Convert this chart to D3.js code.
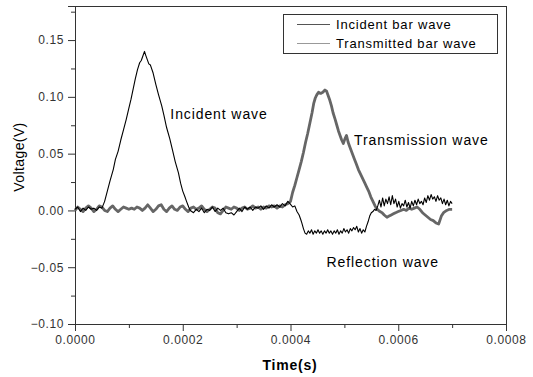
<!DOCTYPE html>
<html><head><meta charset="utf-8">
<script src="https://d3js.org/d3.v7.min.js"></script>
<style>body{margin:0;background:#fff}svg{display:block;font-family:"Liberation Sans",Arial,sans-serif}</style>
</head><body><svg id="c" width="533" height="377"></svg>
<script>
// ---- data (time in microseconds, voltage in V) ----
const incidentTimeUs = [0,5,10,15,20,25,30,35,40,45,50,
 55,60,65,71,75,80,85,90,95,100,104,108,112,116,120,123,126,129,131,134,137,140,145,150,155,161,165,170,176,181,186,192,196,200,204,207,211,214,
 220,225,230,235,240,245,250,255,260,265,270,275,280,285,290,295,300,305,310,315,320,325,330,335,340,345,350,355,360,365,370,375,380,385,390,395,399,
 404,408,412,416,419,421,424,427,430,433,436,439,442,445,448,451,454,457,460,463,466,469,472,475,478,481,484,487,490,493,496,499,502,505,508,511,514,517,520,523,526,529,532,535,538,541,544,547,550,553,556,559,562,565,568,571,574,577,580,583,586,589,592,595,598,601,604,607,610,613,616,619,622,625,628,631,634,637,640,643,646,649,652,655,658,661,664,667,670,673,676,679,682,685,688,691,694,697,700];
const incidentVoltage = [0.001,0.003,-0.001,0.002,0.000,0.003,0.001,0.002,0.000,0.003,0.002,
 0.008,0.017,0.026,0.036,0.045,0.052,0.062,0.071,0.080,0.090,0.098,0.107,0.116,0.124,0.130,0.132,0.136,0.140,0.137,0.133,0.129,0.128,0.121,0.111,0.102,0.092,0.084,0.073,0.063,0.053,0.043,0.033,0.024,0.017,0.012,0.008,0.003,0.000,
 -0.002,0.001,-0.001,0.002,-0.002,0.001,0.000,0.003,-0.001,0.002,0.000,0.002,-0.002,-0.003,-0.002,-0.004,-0.001,0.002,-0.001,0.003,0.001,0.003,0.000,0.003,0.002,0.004,0.001,0.004,0.002,0.005,0.003,0.005,0.003,0.006,0.004,0.008,0.006,
 0.003,0.004,-0.001,-0.004,-0.008,-0.011,-0.016,-0.020,-0.021,-0.018,-0.020,-0.017,-0.021,-0.018,-0.020,-0.017,-0.020,-0.018,-0.021,-0.018,-0.020,-0.017,-0.020,-0.018,-0.021,-0.018,-0.020,-0.017,-0.021,-0.018,-0.020,-0.016,-0.019,-0.017,-0.020,-0.016,-0.018,-0.015,-0.017,-0.014,-0.019,-0.016,-0.020,-0.017,-0.019,-0.014,-0.010,-0.005,-0.002,-0.001,0.001,0.000,0.004,0.009,0.003,0.011,0.004,0.010,0.006,0.012,0.005,0.013,0.006,0.010,0.003,0.008,0.002,0.006,0.004,0.009,0.003,0.007,0.002,0.008,0.004,0.009,0.005,0.010,0.006,0.008,0.005,0.011,0.007,0.013,0.009,0.014,0.010,0.012,0.008,0.013,0.009,0.011,0.006,0.010,0.005,0.009,0.004,0.008,0.006];

const transmittedTimeUs = [0,5,10,15,20,25,30,35,40,45,50,55,60,65,70,75,80,85,90,95,100,105,110,115,120,125,130,135,140,145,150,155,160,165,170,175,180,185,190,195,200,205,210,215,220,225,230,235,240,245,250,255,260,265,270,275,280,285,290,295,300,305,310,315,320,325,330,335,340,345,350,355,360,365,370,375,380,385,390,395,400,
 404,408,412,416,420,424,428,432,436,440,443,446,449,452,456,460,464,467,470,473,476,479,483,486,489,492,495,498,501,504,507,510,514,518,522,526,530,534,538,541,545,549,553,557,561,566,570,574,579,583,587,591,595,600,605,610,615,620,625,630,635,640,645,650,655,660,665,670,675,680,684,690,695,700];
const transmittedVoltage = [0.000,0.003,0.001,-0.001,0.002,0.004,0.002,-0.001,0.001,0.004,0.003,0.000,-0.001,0.002,0.004,0.001,-0.001,0.001,0.003,0.002,0.001,0.002,0.001,0.003,0.002,0.000,0.002,0.005,0.002,-0.001,0.001,0.004,0.005,0.001,-0.001,0.002,0.004,0.001,0.000,0.003,0.004,0.001,-0.001,0.002,0.003,0.001,0.002,0.004,0.001,-0.001,0.001,0.003,0.002,-0.002,-0.003,0.000,0.003,0.002,0.001,0.003,0.002,0.000,0.002,0.003,0.001,0.002,0.004,0.002,0.003,0.001,0.003,0.002,0.004,0.003,0.004,0.002,0.004,0.003,0.005,0.006,0.008,
 0.016,0.022,0.029,0.036,0.043,0.051,0.060,0.068,0.077,0.086,0.094,0.099,0.102,0.104,0.103,0.104,0.106,0.105,0.101,0.097,0.092,0.086,0.080,0.075,0.070,0.066,0.062,0.059,0.063,0.066,0.060,0.056,0.051,0.046,0.041,0.036,0.032,0.028,0.024,0.021,0.017,0.012,0.008,0.004,0.001,-0.001,-0.002,-0.004,-0.006,-0.005,-0.004,-0.003,-0.002,-0.001,0.000,0.001,0.000,0.002,0.001,0.002,0.003,0.001,-0.002,-0.004,-0.006,-0.008,-0.009,-0.011,-0.012,-0.005,-0.002,0.000,0.001,0.001];

const xTicks = [0,0.0002,0.0004,0.0006,0.0008];
const yTicks = [-0.10,-0.05,0.00,0.05,0.10,0.15];
const legendLabels = ["Incident bar wave","Transmitted bar wave"];
const annotations = [
  {text:"Incident wave", t:0.000177, v:0.085},
  {text:"Transmission wave", t:0.000518, v:0.062},
  {text:"Reflection wave", t:0.000467, v:-0.045}
];

// ---- layout ----
const svg = d3.select("#c");
const L=75, R=506, T=6, B=324;
const x = d3.scaleLinear().domain([0,0.0008]).range([L,R]);
const y = d3.scaleLinear().domain([-0.10,0.18]).range([B,T]);

// frame top/right
svg.append("line").attr("x1",L).attr("x2",R).attr("y1",T+0.5).attr("y2",T+0.5).attr("stroke","#333");
svg.append("line").attr("x1",R+0.5).attr("x2",R+0.5).attr("y1",T).attr("y2",B).attr("stroke","#333");

// axes
const xAxis = d3.axisBottom(x).tickValues(xTicks).tickFormat(d3.format(".4f")).tickSizeOuter(0).tickSize(7).tickPadding(4);
const gx = svg.append("g").attr("transform",`translate(0,${B})`).call(xAxis);
gx.append("g").selectAll("line").data([0.0001,0.0003,0.0005,0.0007]).join("line")
  .attr("x1",d=>x(d)+0.5).attr("x2",d=>x(d)+0.5).attr("y1",0).attr("y2",4).attr("stroke","#333");
const yAxis = d3.axisLeft(y).tickValues(yTicks).tickFormat(d3.format(".2f")).tickSizeOuter(0).tickSize(7).tickPadding(4);
const gy = svg.append("g").attr("transform",`translate(${L},0)`).call(yAxis);
gy.append("g").selectAll("line").data([-0.075,-0.025,0.025,0.075,0.125,0.175]).join("line")
  .attr("y1",d=>y(d)+0.5).attr("y2",d=>y(d)+0.5).attr("x1",0).attr("x2",-4).attr("stroke","#333");
[gx,gy].forEach(g=>{
  g.select(".domain").attr("stroke","#333");
  g.selectAll(".tick line").attr("stroke","#333");
  g.selectAll("text").attr("font-size",12).attr("fill","#333").attr("letter-spacing",0.6)
    .attr("font-family","Liberation Sans, Arial, sans-serif");
});
gx.select(".domain").attr("d",`M${L},0.5H${R}`);

// axis titles
svg.append("text").attr("x",290).attr("y",370).attr("text-anchor","middle")
  .attr("font-size",14).attr("font-weight","bold").attr("letter-spacing",0.8).text("Time(s)");
svg.append("text").attr("transform","translate(24,157) rotate(-90)").attr("text-anchor","middle")
  .attr("font-size",14).attr("letter-spacing",0.4).text("Voltage(V)");

// lines
const lineGen = (ts,vs)=>d3.line().x((d,i)=>x(ts[i]*1e-6)).y((d,i)=>y(vs[i]))(vs);
svg.append("path").attr("d",lineGen(transmittedTimeUs,transmittedVoltage))
  .attr("fill","none").attr("stroke","#666").attr("stroke-width",2.8).attr("stroke-linejoin","round");
svg.append("path").attr("d",lineGen(incidentTimeUs,incidentVoltage))
  .attr("fill","none").attr("stroke","#000").attr("stroke-width",1.1).attr("stroke-linejoin","round");

// annotations
svg.selectAll(".ann").data(annotations).join("text").attr("class","ann")
  .attr("x",d=>x(d.t)).attr("y",d=>y(d.v)+5).attr("font-size",14).attr("letter-spacing",0.9).text(d=>d.text);

// legend
const lg = svg.append("g");
lg.append("rect").attr("x",283.5).attr("y",14.5).attr("width",214).attr("height",39)
  .attr("fill","#fff").attr("stroke","#333");
const legColors = ["#555","#999"];
legendLabels.forEach((s,i)=>{
  const yy = 24 + i*19;
  lg.append("line").attr("x1",297).attr("x2",330).attr("y1",yy+0.5).attr("y2",yy+0.5).attr("stroke",legColors[i]);
  lg.append("text").attr("x",336).attr("y",yy+5).attr("font-size",13).attr("letter-spacing",0.8).text(s);
});
</script></body></html>
